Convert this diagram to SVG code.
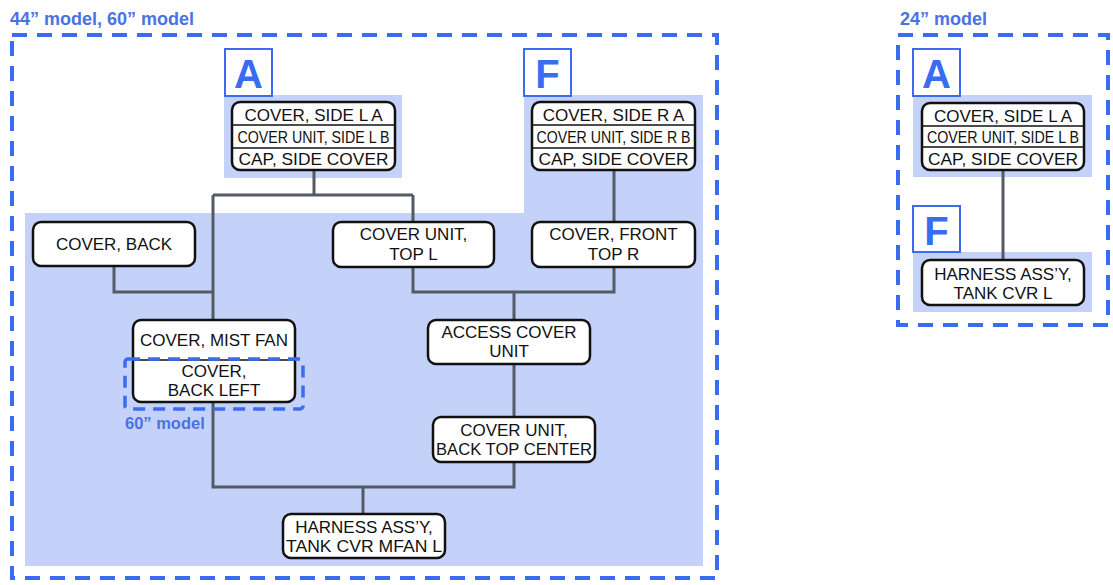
<svg xmlns="http://www.w3.org/2000/svg" width="1113" height="585" viewBox="0 0 1113 585">
  <style>
    .title { font-family: "Liberation Sans", Arial, sans-serif; font-weight: bold; fill: #4a72e0; }
    .frame { fill: none; stroke: #3a6cf2; stroke-width: 4; stroke-dasharray: 15 10; }
    .frame-sm { fill: none; stroke: #3a6cf2; stroke-width: 3.5; stroke-dasharray: 12 8; }
    .shade { fill: #c4d2fa; stroke: none; }
    .tag rect { fill: #ffffff; stroke: #3a6cf2; stroke-width: 2; }
    .tag text { font-family: "Liberation Sans", Arial, sans-serif; font-weight: bold; font-size: 40px; fill: #3a6cf2; text-anchor: middle; }
    .node rect { fill: #ffffff; stroke: #111111; stroke-width: 2.5; }
    .node line { stroke: #111111; stroke-width: 1.5; }
    .node text { font-family: "Liberation Sans", Arial, sans-serif; font-size: 17px; fill: #111111; text-anchor: middle; }
    .links path { fill: none; stroke: #545b64; stroke-width: 3; }
  </style>

  <!-- 44"/60" model area -->
  <text class="title" x="10" y="25" font-size="18">44” model, 60” model</text>
  <path class="shade" d="M224 95 H402 V178 H224 Z"/>
  <path class="shade" d="M25 213 H524 V95 H703 V566 H25 Z"/>
  <rect class="frame" x="12" y="35" width="705" height="543"/>

  <!-- 24" model area -->
  <text class="title" x="900" y="25" font-size="18">24” model</text>
  <rect class="shade" x="913" y="95" width="179" height="82"/>
  <rect class="shade" x="913" y="252" width="179" height="60"/>
  <rect class="frame" x="898" y="35" width="210" height="290"/>

  <!-- connectors -->
  <g class="links">
    <path d="M314 170 V195 M213 195 H413 M213 195 V320 M413 195 V222"/>
    <path d="M114 266 V292 H213"/>
    <path d="M614 168 V222"/>
    <path d="M413 267 V292 H614 V267 M514 292 V320"/>
    <path d="M514 364 V417"/>
    <path d="M514 462 V487 H213 V402 M363 487 V514"/>
    <path d="M1003 170 V260"/>
  </g>

  <!-- section tags -->
  <g id="tag-a-main" class="tag"><rect x="225" y="49" width="47" height="47"/><text x="248.5" y="88">A</text></g>
  <g id="tag-f-main" class="tag"><rect x="524" y="49" width="47" height="47"/><text x="547.5" y="88">F</text></g>
  <g id="tag-a-24" class="tag"><rect x="913" y="49" width="47" height="47"/><text x="936.5" y="88">A</text></g>
  <g id="tag-f-24" class="tag"><rect x="913" y="206" width="47" height="46"/><text x="936.5" y="245">F</text></g>

  <!-- nodes -->
  <g id="side-l" class="node">
    <rect x="232" y="102" width="163" height="68" rx="8"/>
    <line x1="232" y1="125" x2="395" y2="125"/>
    <line x1="232" y1="148" x2="395" y2="148"/>
    <text x="313.5" y="121">COVER, SIDE L A</text>
    <text x="313.5" y="143" textLength="152" lengthAdjust="spacingAndGlyphs">COVER UNIT, SIDE L B</text>
    <text x="313.5" y="165" textLength="150" lengthAdjust="spacingAndGlyphs">CAP, SIDE COVER</text>
  </g>

  <g id="side-r" class="node">
    <rect x="532" y="102" width="163" height="68" rx="8"/>
    <line x1="532" y1="125" x2="695" y2="125"/>
    <line x1="532" y1="148" x2="695" y2="148"/>
    <text x="613.5" y="121">COVER, SIDE R A</text>
    <text x="613.5" y="143" textLength="154" lengthAdjust="spacingAndGlyphs">COVER UNIT, SIDE R B</text>
    <text x="613.5" y="165" textLength="150" lengthAdjust="spacingAndGlyphs">CAP, SIDE COVER</text>
  </g>

  <g id="cover-back" class="node">
    <rect x="33" y="222" width="162" height="44" rx="8"/>
    <text x="114" y="250">COVER, BACK</text>
  </g>

  <g id="cover-unit-top-l" class="node">
    <rect x="333" y="222" width="161" height="45" rx="8"/>
    <text x="413.5" y="240">COVER UNIT,</text>
    <text x="413.5" y="260">TOP L</text>
  </g>

  <g id="cover-front-top-r" class="node">
    <rect x="532" y="222" width="163" height="45" rx="8"/>
    <text x="613.5" y="240">COVER, FRONT</text>
    <text x="613.5" y="260">TOP R</text>
  </g>

  <g id="mist-fan" class="node">
    <rect x="133" y="320" width="162" height="82" rx="8"/>
    <line x1="133" y1="360" x2="295" y2="360"/>
    <text x="214" y="346">COVER, MIST FAN</text>
    <text x="214" y="377">COVER,</text>
    <text x="214" y="396">BACK LEFT</text>
  </g>
  <rect class="frame-sm" x="125" y="359" width="178" height="50" rx="3"/>
  <text class="title" x="125" y="429" font-size="16.5">60” model</text>

  <g id="access-cover-unit" class="node">
    <rect x="428" y="320" width="162" height="44" rx="8"/>
    <text x="509" y="338">ACCESS COVER</text>
    <text x="509" y="357">UNIT</text>
  </g>

  <g id="back-top-center" class="node">
    <rect x="433" y="417" width="162" height="45" rx="8"/>
    <text x="514" y="436">COVER UNIT,</text>
    <text x="514" y="455" textLength="156" lengthAdjust="spacingAndGlyphs">BACK TOP CENTER</text>
  </g>

  <g id="harness-mfan" class="node">
    <rect x="283" y="514" width="162" height="44" rx="8"/>
    <text x="364" y="533">HARNESS ASS’Y,</text>
    <text x="364" y="552" textLength="156" lengthAdjust="spacingAndGlyphs">TANK CVR MFAN L</text>
  </g>

  <g id="side-l-24" class="node">
    <rect x="922" y="103" width="162" height="67" rx="8"/>
    <line x1="922" y1="126" x2="1084" y2="126"/>
    <line x1="922" y1="147" x2="1084" y2="147"/>
    <text x="1003" y="122">COVER, SIDE L A</text>
    <text x="1003" y="143" textLength="152" lengthAdjust="spacingAndGlyphs">COVER UNIT, SIDE L B</text>
    <text x="1003" y="165" textLength="150" lengthAdjust="spacingAndGlyphs">CAP, SIDE COVER</text>
  </g>

  <g id="harness-24" class="node">
    <rect x="922" y="260" width="162" height="45" rx="8"/>
    <text x="1003" y="280">HARNESS ASS’Y,</text>
    <text x="1003" y="299">TANK CVR L</text>
  </g>
</svg>
